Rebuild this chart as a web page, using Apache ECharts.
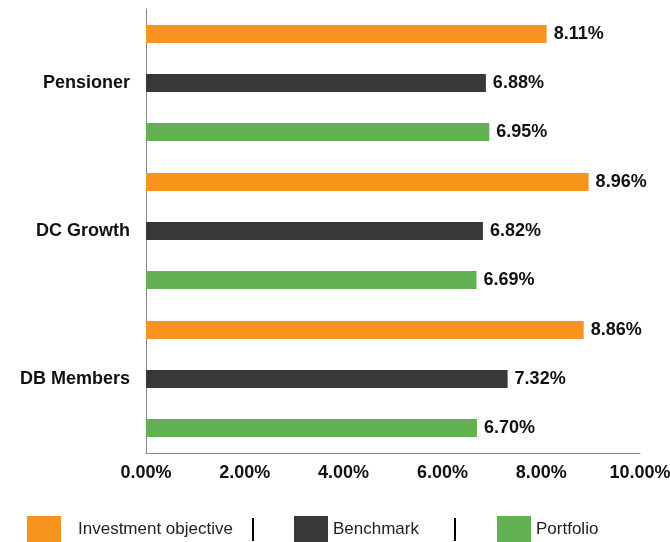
<!DOCTYPE html>
<html><head><meta charset="utf-8">
<script src="https://cdn.jsdelivr.net/npm/echarts@6/dist/echarts.min.js"></script>
<style>html,body{margin:0;padding:0;background:#fff}#c{width:670px;height:542px}</style>
</head><body><div id="c"></div>
<script>
const categories = ['Pensioner', 'DC Growth', 'DB Members'];
const seriesNames = ['Investment objective', 'Benchmark', 'Portfolio'];
const objective = [8.11, 8.96, 8.86];
const benchmark = [6.88, 6.82, 7.32];
const portfolio = [6.95, 6.69, 6.70];
const xTicks = [0, 2, 4, 6, 8, 10];
const colors = ['#F7941D', '#383838', '#62B152'];

const chart = echarts.init(document.getElementById('c'));
const font = 'Liberation Sans, Arial, sans-serif';
const labelStyle = {show: true, position: 'right', distance: 7, fontFamily: font, fontWeight: 'bold', fontSize: 18, color: '#111',
  formatter: p => p.value.toFixed(2) + '%'};
const vals = [objective, benchmark, portfolio];
const series = seriesNames.map((n, i) => ({
  name: n, type: 'bar', data: vals[i], barWidth: 18, barGap: '172%',
  itemStyle: {color: colors[i]}, label: labelStyle, animation: false
}));
const legendLefts = [27, 294, 497];
const legendPads = [12, 0, 0];
chart.setOption({
  animation: false,
  grid: {left: 146, right: 30, top: 9, height: 444, containLabel: false, outerBoundsMode: 'none'},
  xAxis: {type: 'value', min: xTicks[0], max: xTicks[xTicks.length - 1], interval: 2,
    axisLine: {show: true, lineStyle: {color: '#888', width: 1}}, axisTick: {show: false}, splitLine: {show: false},
    axisLabel: {margin: 11, fontFamily: font, fontWeight: 'bold', fontSize: 18, color: '#111', formatter: v => v.toFixed(2) + '%'}},
  yAxis: {type: 'category', data: categories, inverse: true,
    axisLine: {show: true, lineStyle: {color: '#888', width: 1}}, axisTick: {show: false},
    axisLabel: {margin: 16, fontFamily: font, fontWeight: 'bold', fontSize: 18, color: '#111'}},
  legend: seriesNames.map((n, i) => ({
    data: [n], left: legendLefts[i], top: 516, itemWidth: 34, itemHeight: 26, icon: 'rect',
    selectedMode: false, padding: 0,
    textStyle: {fontFamily: font, fontSize: 17, color: '#222', padding: [4, 0, 0, legendPads[i]]}
  })),
  graphic: [
    {type: 'line', shape: {x1: 253, y1: 518, x2: 253, y2: 541}, style: {stroke: '#000', lineWidth: 2}},
    {type: 'line', shape: {x1: 455, y1: 518, x2: 455, y2: 541}, style: {stroke: '#000', lineWidth: 2}}
  ],
  series: series
});
</script></body></html>
